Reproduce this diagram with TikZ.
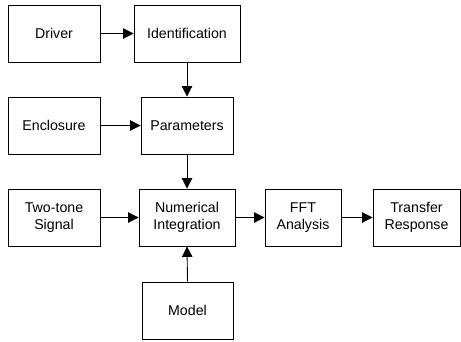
\documentclass[tikz,border=0pt]{standalone}
\usepackage{fontspec}
\setmainfont{Liberation Sans}
\usetikzlibrary{arrows.meta}
\begin{document}
\begin{tikzpicture}[x=1pt,y=-1pt,
  blk/.style={draw, line width=0.9pt, inner sep=0pt, align=center, font=\fontsize{14.2}{17}\selectfont, minimum height=57pt},
  conn/.style={line width=0.9pt, -{Triangle[length=10.5pt,width=10.5pt]}}]
\useasboundingbox (0,0) rectangle (461,341);
\node[blk, minimum width=92pt] (drv) at (54,33.5) {Driver};
\node[blk, minimum width=106pt] (idf) at (187,33.5) {Identification};
\node[blk, minimum width=92pt] (enc) at (54,125.5) {Enclosure};
\node[blk, minimum width=92pt] (par) at (187,125.5) {Parameters};
\node[blk, minimum width=92pt] (sig) at (54,217.5) {Two-tone\\Signal};
\node[blk, minimum width=96pt] (num) at (187,217.5) {Numerical\\Integration};
\node[blk, minimum width=76pt] (fft) at (303,217.5) {FFT\\Analysis};
\node[blk, minimum width=87pt] (tr) at (416.5,217.5) {Transfer\\Response};
\node[blk, minimum width=91pt] (mod) at (187.5,310.5) {Model};
\draw[conn] (drv) -- (idf);
\draw[conn] (idf) -- (par);
\draw[conn] (enc) -- (par);
\draw[conn] (par) -- (num);
\draw[conn] (sig) -- (num);
\draw[conn] (num) -- (fft);
\draw[conn] (fft) -- (tr);
\draw[conn] (mod.north) -- (num.south);
\end{tikzpicture}
\end{document}
